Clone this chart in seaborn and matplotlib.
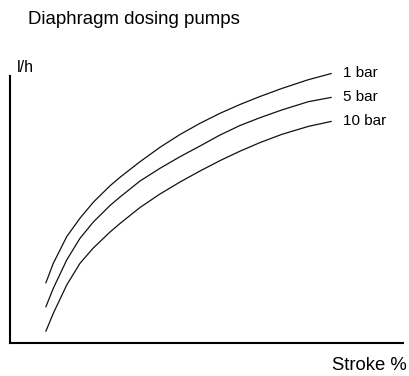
import matplotlib
matplotlib.use("Agg")
import matplotlib.pyplot as plt
import seaborn as sns
import pandas as pd

# Stroke length (%) and delivery (relative l/h) for three back-pressures
stroke = [9.08, 11.02, 14.43, 17.81, 21.20, 25.45, 27.99, 33.08, 38.17,
          43.26, 48.35, 53.44, 58.52, 63.61, 69.14, 75.90, 81.86]
flow_1bar = [22.36, 29.85, 39.85, 46.74, 52.73, 58.88, 62.06, 67.90, 73.30,
             78.09, 82.28, 86.03, 89.33, 92.32, 95.32, 98.61, 100.97]
flow_5bar = [13.37, 20.49, 31.09, 39.21, 45.32, 51.50, 54.68, 60.67, 65.43,
             69.78, 73.78, 77.90, 81.46, 84.38, 87.27, 90.37, 92.02]
flow_10bar = [4.23, 11.12, 21.72, 29.85, 35.58, 41.57, 44.76, 50.75, 55.81,
              60.30, 64.42, 68.31, 71.84, 75.06, 78.13, 81.12, 83.03]
series_labels = ["1 bar", "5 bar", "10 bar"]

frames = []
for name, vals in zip(series_labels, [flow_1bar, flow_5bar, flow_10bar]):
    frames.append(pd.DataFrame({"stroke": stroke, "flow": vals, "pressure": name}))
df = pd.concat(frames, ignore_index=True)

sns.set_style("white")
plt.rcParams["font.family"] = ["Liberation Sans", "DejaVu Sans"]

W, H = 409, 376
fig = plt.figure(figsize=(W / 100, H / 100), dpi=100)
ax = fig.add_axes([10 / W, 33 / H, 393 / W, 267 / H])

sns.lineplot(data=df, x="stroke", y="flow", hue="pressure",
             palette=["#111111"] * 3, linewidth=0.9, legend=False, ax=ax,
             sort=False)
for ln in ax.lines:
    ln.set_clip_on(False)
    ln.set_solid_joinstyle("round")
    ln.set_solid_capstyle("butt")

ax.set_xlim(0, 100)
ax.set_ylim(0, 100)
ax.set_xticks([])
ax.set_yticks([])
ax.set_xlabel("")
ax.set_ylabel("")
for side in ["top", "right"]:
    ax.spines[side].set_visible(False)
for side in ["left", "bottom"]:
    ax.spines[side].set_color("black")
    ax.spines[side].set_linewidth(1.5)

# Series labels just past the line ends
for name, vals in zip(series_labels, [flow_1bar, flow_5bar, flow_10bar]):
    ax.annotate(name, xy=(stroke[-1], vals[-1]), xytext=(11, 0),
                textcoords="offset pixels", ha="left", va="center",
                fontsize=11, color="black", annotation_clip=False)

fig.text(28 / W, 1 - 20 / H, "Diaphragm dosing pumps", ha="left", va="center",
         fontsize=13.4, color="black")
fig.text(17 / W, 1 - 68 / H, "l/h", ha="left", va="center",
         fontsize=11.5, color="black")
fig.text(407 / W, 1 - 365 / H, "Stroke %", ha="right", va="center",
         fontsize=13.3, color="black")

fig.savefig("out.png", dpi=100)
